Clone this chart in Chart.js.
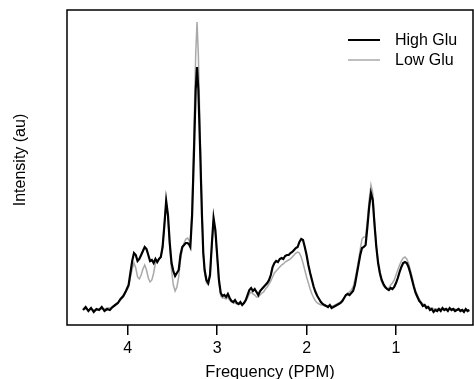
<!DOCTYPE html>
<html>
<head>
<meta charset="utf-8">
<script src="https://cdn.jsdelivr.net/npm/chart.js@4/dist/chart.umd.min.js"></script>
<style>
  body { margin: 0; background: #fff; }
  canvas { display: block; }
</style>
</head>
<body>
<canvas id="nmrChart" width="474" height="379"></canvas>
<script>
// chemical shift (ppm)
const ppm = [
  4.50, 4.47, 4.44, 4.41, 4.38, 4.35, 4.32, 4.29, 4.26, 4.23, 4.20, 4.17, 4.14, 4.11, 4.08, 4.05, 4.02, 3.99,
  3.97, 3.95, 3.93, 3.91, 3.89, 3.87, 3.85, 3.83, 3.81, 3.79, 3.77, 3.75, 3.73, 3.71, 3.69, 3.67, 3.65, 3.63,
  3.61, 3.59, 3.57, 3.55, 3.53, 3.51, 3.49, 3.47, 3.45, 3.43, 3.41, 3.39, 3.37, 3.35, 3.33, 3.31, 3.30, 3.28,
  3.26, 3.24, 3.225, 3.21, 3.19, 3.17, 3.155, 3.14, 3.12, 3.10, 3.08, 3.06, 3.04, 3.02, 3.00, 2.98, 2.96, 2.94,
  2.92, 2.90, 2.88, 2.86, 2.84, 2.82, 2.80, 2.78, 2.76, 2.74, 2.72, 2.70, 2.68, 2.66, 2.64, 2.62, 2.60, 2.58,
  2.56, 2.54, 2.52, 2.50, 2.48, 2.46, 2.44, 2.42, 2.40, 2.38, 2.36, 2.34, 2.32, 2.30, 2.28, 2.26, 2.24, 2.22,
  2.20, 2.18, 2.16, 2.14, 2.12, 2.10, 2.08, 2.06, 2.04, 2.02, 2.00, 1.98, 1.96, 1.94, 1.92, 1.90, 1.88, 1.86,
  1.84, 1.82, 1.80, 1.78, 1.76, 1.74, 1.72, 1.70, 1.68, 1.66, 1.64, 1.62, 1.60, 1.58, 1.56, 1.54, 1.52, 1.50,
  1.48, 1.46, 1.44, 1.42, 1.40, 1.38, 1.36, 1.34, 1.32, 1.30, 1.28, 1.26, 1.24, 1.22, 1.20, 1.18, 1.16, 1.14,
  1.12, 1.10, 1.08, 1.06, 1.04, 1.02, 1.00, 0.98, 0.96, 0.94, 0.92, 0.90, 0.88, 0.86, 0.84, 0.82, 0.80, 0.78,
  0.76, 0.74, 0.72, 0.70, 0.68, 0.66, 0.64, 0.62, 0.60, 0.58, 0.56, 0.54, 0.52, 0.50, 0.48, 0.46, 0.44, 0.42,
  0.40, 0.38, 0.36, 0.34, 0.32, 0.30, 0.28, 0.26, 0.24, 0.22, 0.20, 0.18
];

// High Glu intensity (au)
const highGlu = [
  15, 18, 14, 17, 13, 16, 15, 18, 14, 16, 15, 18, 20, 22, 26, 29, 34, 40,
  52, 64, 72, 70, 64, 66, 70, 74, 78, 76, 70, 64, 65, 62, 66, 63, 66, 68,
  78, 100, 124, 110, 82, 62, 54, 49, 52, 55, 70, 78, 80, 82, 82, 80, 78, 110,
  170, 235, 258, 235, 175, 110, 72, 55, 45, 42, 50, 80, 107, 95, 70, 45, 32, 29,
  30, 28, 31, 27, 24, 23, 25, 22, 21, 23, 20, 22, 25, 30, 35, 37, 34, 36,
  33, 30, 34, 36, 38, 40, 42, 45, 50, 58, 62, 64, 63, 66, 67, 66, 69, 70,
  70, 72, 73, 75, 77, 78, 83, 86, 85, 78, 70, 60, 52, 45, 38, 33, 29, 26,
  23, 21, 20, 19, 18, 20, 17, 18, 19, 20, 21, 22, 24, 27, 30, 31, 30, 32,
  34, 40, 50, 60, 70, 77, 78, 80, 98, 118, 132, 125, 100, 78, 62, 52, 45, 41,
  38, 36, 35, 37, 36, 38, 42, 47, 53, 58, 62, 63, 62, 58, 52, 45, 38, 32,
  28, 24, 22, 19, 20, 17, 18, 15, 16, 13, 15, 14, 16, 14, 17, 15, 16, 14,
  17, 15, 16, 14, 15, 16, 14, 15, 13, 16, 14, 15
];

// Low Glu intensity (au)
const lowGlu = [
  16, 16, 15, 16, 15, 15, 16, 16, 16, 17, 17, 18, 20, 22, 25, 28, 33, 38,
  48, 56, 62, 57, 48, 46, 50, 56, 60, 55, 47, 43, 45, 52, 62, 63, 66, 68,
  78, 100, 122, 108, 78, 55, 40, 34, 38, 48, 65, 76, 82, 86, 87, 84, 82, 115,
  190, 270, 303, 270, 190, 115, 72, 52, 42, 40, 48, 78, 104, 92, 68, 42, 29, 27,
  27, 26, 28, 25, 23, 22, 22, 21, 21, 21, 21, 22, 24, 27, 31, 33, 31, 30,
  28, 28, 30, 32, 33, 36, 38, 41, 44, 48, 52, 54, 56, 58, 60, 61, 63, 64,
  65, 66, 68, 70, 72, 73, 72, 68, 62, 55, 48, 42, 36, 31, 27, 24, 22, 21,
  20, 20, 19, 19, 19, 19, 19, 19, 20, 21, 22, 23, 25, 27, 30, 32, 33, 35,
  38, 45, 54, 64, 76, 86, 88, 88, 105, 125, 140, 132, 104, 80, 62, 50, 43, 39,
  37, 36, 37, 40, 42, 45, 50, 55, 60, 64, 67, 68, 66, 62, 55, 48, 40, 34,
  30, 26, 23, 21, 20, 19, 18, 17, 17, 16, 16, 16, 16, 16, 16, 16, 16, 16,
  16, 16, 16, 16, 15, 15, 15, 15, 15, 15, 15, 15
];

const xTicks = [4, 3, 2, 1];
const seriesNames = ["High Glu", "Low Glu"];
const seriesColors = ["#000000", "#a9a9a9"];

const FONT = "'Liberation Sans', Arial, Helvetica, sans-serif";

// box around the plot, y title and legend (drawn like the R plot)
const framePlugin = {
  id: "frame",
  afterDraw(chart) {
    const { ctx, chartArea: a } = chart;
    ctx.save();
    ctx.strokeStyle = "#000";
    ctx.lineWidth = 1.5;
    ctx.strokeRect(a.left, a.top, a.right - a.left, a.bottom - a.top);

    // y axis title
    ctx.fillStyle = "#000";
    ctx.font = "16px " + FONT;
    ctx.textAlign = "center";
    ctx.textBaseline = "middle";
    ctx.translate(21, 160);
    ctx.rotate(-Math.PI / 2);
    ctx.fillText("Intensity (au)", 0, 0);
    ctx.restore();

    // legend
    ctx.save();
    ctx.font = "16px " + FONT;
    ctx.textBaseline = "middle";
    seriesNames.forEach((name, i) => {
      const y = 40 + i * 20;
      ctx.strokeStyle = seriesColors[i];
      ctx.lineWidth = i === 0 ? 2 : 1.5;
      ctx.beginPath();
      ctx.moveTo(348, y);
      ctx.lineTo(380, y);
      ctx.stroke();
      ctx.fillStyle = "#000";
      ctx.fillText(name, 395, y + 1);
    });
    ctx.restore();
  }
};

new Chart(document.getElementById("nmrChart"), {
  type: "line",
  data: {
    datasets: [
      {
        label: seriesNames[0],
        data: ppm.map((p, i) => ({ x: p, y: highGlu[i] })),
        borderColor: seriesColors[0],
        borderWidth: 2.2,
        pointRadius: 0,
        tension: 0
      },
      {
        label: seriesNames[1],
        data: ppm.map((p, i) => ({ x: p, y: lowGlu[i] })),
        borderColor: seriesColors[1],
        borderWidth: 1.5,
        pointRadius: 0,
        tension: 0
      }
    ]
  },
  options: {
    responsive: false,
    animation: false,
    layout: { padding: { left: 67, top: 10, right: 1, bottom: 0 } },
    plugins: {
      legend: { display: false },
      tooltip: { enabled: false }
    },
    scales: {
      x: {
        type: "linear",
        reverse: true,
        min: 0.139,
        max: 4.679,
        afterBuildTicks: scale => { scale.ticks = xTicks.map(v => ({ value: v })); },
        afterFit: scale => { scale.height = 54; },
        grid: { display: true, drawOnChartArea: false, drawTicks: true, tickLength: 10, color: "#000", lineWidth: 1.5 },
        border: { display: false },
        ticks: { color: "#000", padding: 4, maxRotation: 0, font: { family: FONT, size: 16 } },
        title: {
          display: true,
          text: "Frequency (PPM)",
          color: "#000",
          font: { family: FONT, size: 16.5 },
          padding: { top: 0, bottom: -3 }
        }
      },
      y: {
        display: false,
        min: 0,
        max: 315
      }
    }
  },
  plugins: [framePlugin]
});
</script>
</body>
</html>
